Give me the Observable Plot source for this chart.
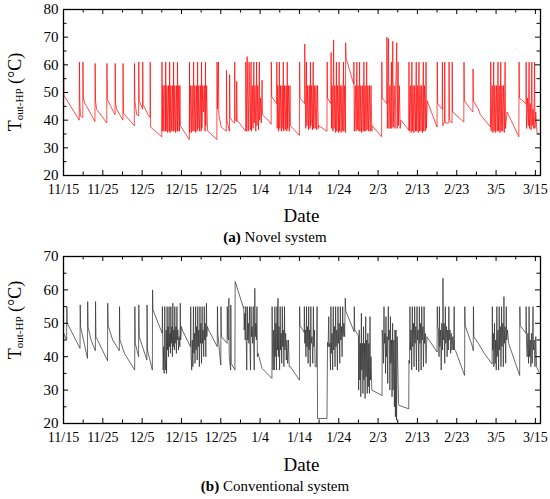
<!DOCTYPE html>
<html><head><meta charset="utf-8">
<script src="https://cdn.jsdelivr.net/npm/d3@7"></script>
<script src="https://cdn.jsdelivr.net/npm/@observablehq/plot@0.6"></script>
<style>
body{margin:0;background:#fff;font-family:"Liberation Serif","Times New Roman",serif;}
#wrap{position:relative;width:550px;height:499px;overflow:hidden;background:#fff;}
.panel{position:absolute;left:0;}
.xlab{position:absolute;left:63px;width:477px;text-align:center;font-size:19px;line-height:1;color:#000;}
.cap{position:absolute;left:0;width:550px;text-align:center;font-size:15px;line-height:1;color:#000;}
.ylab{position:absolute;font-size:18px;white-space:nowrap;line-height:1;transform:translate(-50%,-50%) rotate(-90deg);color:#000;}
.ylab sub{font-size:11px;vertical-align:-0.2em;line-height:0;}
</style></head>
<body>
<div id="wrap">
  <div id="p1" class="panel" style="top:0px"></div>
  <div class="xlab" style="top:206px">Date</div>
  <div class="cap" style="top:230px"><b>(a)</b> Novel system</div>
  <div id="p2" class="panel" style="top:247px"></div>
  <div class="xlab" style="top:455px">Date</div>
  <div class="cap" style="top:479px"><b>(b)</b> Conventional system</div>
  <div class="ylab" style="left:15px;top:92px">T<sub>out-HP</sub> (°C)</div>
  <div class="ylab" style="left:15px;top:320px">T<sub>out-HP</sub> (°C)</div>
</div>
<script>
// x positions: days since 11/15
const xMajor = [0,10,20,30,40,50,60,70,80,90,100,110,120];
const xMinor = [5,15,25,35,45,55,65,75,85,95,105,115];
const dateLabels = ["11/15","11/25","12/5","12/15","12/25","1/4","1/14","1/24","2/3","2/13","2/23","3/5","3/15"];
const yMajorA = [20,30,40,50,60,70,80];
const yMinorA = [25,35,45,55,65,75];
const yMajorB = [20,30,40,50,60,70];
const yMinorB = [25,35,45,55,65];

// (a) Novel system: [day, T_out-HP °C]
const novelSeries = [
[0,30],[0.05,61],[0.1,49],[4.0,40],[4.05,61],[4.15,47],[4.3,41.5],[4.9,41],[4.95,61],[5.05,48],[5.3,46.5],[8.0,39.5],[8.05,60.5],[8.15,47],[8.4,44],[11.0,39],[11.05,60.5],[11.15,47.5],[12.0,45],[13.1,42],[13.15,60.5],[13.25,46],[13.5,44],[15.1,40],[15.15,60.5],[15.25,42.5],[18.0,38],[18.05,60.5],[18.15,47],[18.6,42],[19.1,41.5],[19.15,61],[19.25,47],[20.1,44],[20.15,61],[20.25,45.5],[21.5,42],[22.0,41],[22.05,61],[22.15,37.5],[25.0,34],
[25.05,61],[25.1,36],[25.3,52.5],[25.5,36],[25.6,52.5],[25.8,52.5],[25.9,36],[26.0,61],[26.1,36],[26.3,52.5],[26.5,35.5],[26.7,52.5],[26.9,36],[27.0,61],[27.1,35.5],[27.3,52.5],[27.5,36],[27.7,52.5],[27.9,36],[28.0,61],[28.1,36],[28.3,52.5],[28.5,35.5],[28.7,52.5],[28.9,36],[29.0,61],[29.1,36],[29.3,52.5],[29.5,36],[29.6,52.5],[29.7,38],[32.0,33],
[32.05,61],[32.1,35.5],[32.3,52.5],[32.5,35.5],[32.7,52.5],[32.9,36],[33.1,61],[33.2,36],[33.4,52.5],[33.6,35.5],[33.8,52.5],[34.0,36],[34.1,61],[34.2,37],[34.4,52.5],[34.6,36],[34.8,52.5],[35.0,36],[35.1,61],[35.2,37],[35.4,52.5],[35.6,43],[35.8,52.5],[36.0,36],[36.1,61],[36.2,38],[36.4,52.5],[36.6,36.5],[36.7,36],[39.0,33],
[39.05,61],[39.15,44],[39.4,61],[39.5,42],[40.1,37.5],[41.4,36],[41.45,58],[41.55,40],[42.2,36],[42.25,56.5],[42.35,41],[43.0,39.5],[43.5,39],[43.55,61],[43.65,40],[44.0,39.5],[44.05,54],[44.15,40],[46.3,36],
[46.35,61],[46.45,52.5],[46.6,36],[46.7,63],[46.8,52.5],[47.0,36],[47.2,61],[47.3,52.5],[47.5,36.5],[47.7,61],[47.8,36],[48.0,52.5],[48.2,37],[48.4,61],[48.5,39],[48.7,52.5],[48.9,36],[49.1,61],[49.2,38],[49.4,52.5],[49.6,36.5],[49.8,61],[49.9,40],[50.1,48],[50.3,39],[50.5,54.5],[50.6,42],[52.0,40],[52.8,38.5],[52.85,61],[52.95,48.5],[54.2,46],[54.25,61],[54.35,37],
[54.5,52.5],[54.7,36],[54.9,61],[55.0,37],[55.2,52.5],[55.4,36],[55.6,52.5],[55.8,37],[55.9,61],[56.0,36],[56.2,52.5],[56.4,36.5],[56.6,52.5],[56.8,36],[56.9,61],[57.0,37],[57.2,52.5],[57.4,36],[57.6,52.5],[57.7,38],[60.0,34.5],
[60.05,61],[60.15,48],[61.3,46],[61.35,67.5],[61.45,52.5],[61.6,37],[61.8,61],[61.9,38],[62.1,52.5],[62.3,36.5],[62.5,52.5],[62.7,37],[62.8,61],[62.9,38],[63.1,52.5],[63.3,36.5],[63.5,61],[63.6,37],[63.8,52.5],[64.0,37],[64.2,52.5],[64.4,36.5],[64.6,52.5],[64.8,37],[64.9,38],[67.0,36],
[67.05,61],[67.15,48],[68.0,46],[68.05,64.5],[68.15,37],[68.3,52.5],[68.5,36],[68.7,69],[68.8,37],[69.0,52.5],[69.2,35.5],[69.4,61],[69.5,36],[69.7,52.5],[69.9,35.5],[70.1,61],[70.2,36],[70.4,52.5],[70.6,35.5],[70.8,52.5],[71.0,36],[71.2,61],[71.3,36],[71.5,52.5],[71.7,35.5],[71.75,68],[71.85,62.5],[73.8,53],
[73.85,61],[73.95,36],[74.2,52.5],[74.4,36],[74.6,61],[74.7,36.5],[74.9,52.5],[75.1,36],[75.3,61],[75.4,36],[75.6,52.5],[75.8,35.5],[76.0,52.5],[76.2,36],[76.4,61],[76.5,36],[76.7,52.5],[76.9,36],[77.1,61],[77.2,36.5],[77.4,52.5],[77.6,36],[77.8,52.5],[78.0,36],[78.2,52.5],[78.4,36],[78.5,38],[80.9,34],
[80.95,61],[81.05,48],[82.2,46],[82.25,70],[82.35,37],[82.5,52.5],[82.65,69.5],[82.75,37],[83.0,52.5],[83.2,37],[83.4,61],[83.5,37],[83.75,68.5],[83.85,37.5],[84.1,52.5],[84.3,37],[84.5,52.5],[84.75,68],[84.85,37],[85.1,61],[85.2,38],[85.4,52.5],[85.6,37],[85.8,40],[87.8,36.5],
[87.85,61],[87.95,36],[88.2,52.5],[88.4,35.5],[88.6,61],[88.7,36],[88.9,52.5],[89.1,35.5],[89.3,52.5],[89.5,36],[89.7,61],[89.8,36],[90.0,52.5],[90.2,35.5],[90.4,61],[90.5,36],[90.7,52.5],[90.9,36],[91.1,52.5],[91.3,35.5],[91.5,61],[91.6,36],[91.8,52.5],[92.0,36],[92.2,61],[92.3,37],[92.5,47],[95.0,37.5],
[95.05,61],[95.15,46],[96.3,44],[96.35,61],[96.45,38],[96.9,39.5],[96.95,61],[97.05,39],[98.0,39],[98.05,61],[98.15,40],[98.8,39],[98.85,61],[98.95,43],[101.8,39.3],[101.85,61],[101.95,47],[103.5,44],[104.1,43],[104.15,58.5],[104.25,47],[105.5,44],[106.0,42],[108.6,37.5],
[108.65,61],[108.75,36],[109.0,52.5],[109.2,35.5],[109.4,61],[109.5,36],[109.7,52.5],[109.9,35.5],[110.1,52.5],[110.3,36],[110.5,61],[110.6,36],[110.8,52.5],[111.0,35.5],[111.2,61],[111.3,36],[111.5,52.5],[111.7,36],[111.9,52.5],[112.1,35.5],[112.3,61],[112.4,37],[112.8,43],[115.8,34],
[115.85,61],[115.95,48],[117.6,46],[117.65,61],[117.75,37],[118.0,48],[118.2,38],[118.4,61],[118.5,37],[118.7,46],[118.9,36.5],[119.1,61],[119.2,38],[119.4,44],[119.6,37],[119.8,61],[119.9,37],[120.1,43],[120.4,35.5],[120.9,35]
];

// (b) Conventional system: [day, T_out-HP °C]
const conventionalSeries = [
[0,42],[0.05,47],[0.8,45],[0.85,55],[0.95,50],[4.2,42.5],[4.25,55.5],[4.35,49],[6.1,39.5],[6.15,56.5],[6.25,49],[7.0,45],[8.1,41.8],[8.15,56.5],[8.25,46],[11.2,38.8],[11.25,56],[11.35,49.3],[12.5,45],[14.2,41.8],[14.25,55],[14.35,45],[15.5,41],[18.1,36],[18.15,55],[18.25,44],[19.1,40],[19.15,55.5],[19.25,46],[21.2,39],[21.25,55.5],[21.35,42],[22.6,36],[22.65,60],[22.75,54],[25.1,47],
[25.15,55],[25.25,44],[25.35,36],[25.5,43],[25.6,35],[25.75,55],[25.85,40],[26.0,36],[26.1,48],[26.2,35],[26.35,55],[26.45,42],[26.6,49],[26.7,40],[26.85,55],[26.95,43],[27.1,47],[27.2,41],[27.3,55],[27.4,44],[27.55,49],[27.7,40],[27.8,56],[27.9,43],[28.05,48],[28.2,42],[28.3,55],[28.4,44],[28.6,49],[28.7,41],[28.85,55],[28.95,45],[29.1,48],[29.25,42],[29.4,46],[29.6,43],[29.7,56],[29.8,45],[30.0,49],[30.2,48],[32.3,43],
[32.35,55],[32.45,40],[32.6,36],[32.75,45],[32.9,37],[33.05,55],[33.15,41],[33.3,47],[33.45,38],[33.6,55],[33.7,42],[33.85,49],[34.0,39],[34.15,55],[34.25,43],[34.4,48],[34.55,37],[34.7,55],[34.8,44],[34.95,50],[35.1,38],[35.25,55],[35.35,44],[35.5,48],[35.65,40],[35.8,55],[35.9,45],[36.05,50],[36.2,40],[36.35,56],[36.45,46],[36.6,49],[36.9,48],[39.1,43],
[39.15,55],[39.25,47],[40.0,37.5],[40.05,55],[40.15,46],[41.6,44],[41.65,55],[41.75,46],[42.0,45],[42.05,57.5],[42.15,40],[42.5,36],[42.55,55.5],[42.65,38],[43.6,36],[43.65,62.5],[45.8,54.5],
[45.85,55],[45.95,48],[46.1,53],[46.2,45],[46.35,55],[46.45,46],[46.6,36],[46.75,55],[46.85,45],[47.0,50],[47.15,44],[47.3,55],[47.4,45],[47.55,36],[47.7,55],[47.8,46],[47.95,49],[48.1,44],[48.25,55],[48.35,45],[48.5,36],[48.65,60.5],[48.75,46],[48.9,50],[49.05,45],[49.2,55],[49.3,40],[49.5,41],[49.7,40],[50.5,36.5],[53.0,33.5],
[53.05,55],[53.15,42],[53.3,36],[53.45,48],[53.6,36],[53.75,55],[53.85,40],[54.0,50],[54.15,36],[54.3,55],[54.4,42],[54.55,57.5],[54.65,40],[54.8,49],[54.95,36],[55.1,55],[55.2,42],[55.35,47],[55.5,38],[55.65,55],[55.75,43],[55.9,48],[56.05,37],[56.2,55],[56.3,42],[56.5,47],[56.65,39],[56.8,45],[57.0,38],[57.2,45],[57.4,37],[57.7,37],[60.0,33],
[60.05,55],[60.15,49.3],[61.2,47.3],[61.25,55],[61.35,44],[61.5,48],[61.65,40],[61.8,55],[61.9,43],[62.05,49],[62.2,38],[62.35,55],[62.45,42],[62.6,48],[62.75,37],[62.9,55],[63.0,44],[63.2,46],[63.4,38],[63.55,55],[63.65,43],[63.8,48],[64.0,37],[64.3,37],[64.5,55],[64.6,21.5],[67.0,21.5],
[67.15,44.3],[67.3,43],[67.45,52],[67.55,43],[67.75,44],[67.9,36],[68.0,55],[68.1,41],[68.3,47],[68.45,36],[68.6,55],[68.7,42],[68.9,49],[69.05,37],[69.2,55],[69.3,43],[69.5,48],[69.65,36],[69.8,55],[69.9,44],[70.1,50],[70.25,38],[70.4,55],[70.5,45],[70.7,49],[70.85,40],[71.0,55],[71.1,46],[71.3,50],[71.5,46],[71.65,57.5],[71.75,53.8],[73.9,47.5],[73.95,55],[74.05,48],[75.0,46.3],
[75.05,30],[75.2,48],[75.35,33],[75.5,44],[75.6,28],[75.75,53],[75.85,36],[76.0,44],[76.15,29],[76.3,49],[76.4,33],[76.55,44],[76.7,27.5],[76.85,52],[76.95,34],[77.1,45],[77.25,29],[77.4,47],[77.5,31],[77.65,44],[77.8,29],[77.95,52],[78.05,33],[78.2,40],[78.4,30],[81.0,28.4],
[81.05,48],[81.2,45],[81.35,38],[81.5,55],[81.6,44],[81.75,47],[81.9,35],[82.0,52],[82.1,40],[82.3,46],[82.45,32],[82.6,55],[82.7,45],[82.85,48],[83.0,30],[83.15,52],[83.25,38],[83.4,45],[83.55,28],[83.7,50],[83.8,30],[84.0,45],[84.15,25],[84.3,48],[84.4,22],[84.55,48],[84.7,21],[84.85,46],[85.0,38],[85.2,26],[85.35,25.4],[87.8,24.4],
[87.85,38.9],[88.0,38],[88.1,55],[88.2,42],[88.4,48],[88.55,36],[88.7,55],[88.8,43],[89.0,50],[89.15,37],[89.3,55],[89.4,44],[89.6,49],[89.75,36],[89.9,55],[90.0,45],[90.2,48],[90.35,35.5],[90.5,55],[90.6,44],[90.8,50],[90.95,36],[91.1,55],[91.2,45],[91.4,49],[91.55,37],[91.7,55],[91.8,44],[92.0,47],[92.2,38],[92.4,46],[92.5,45.8],[95.0,41.4],
[95.05,55],[95.15,49],[95.35,48],[95.5,40],[95.6,55],[95.7,43],[95.9,48],[96.05,36],[96.2,50],[96.4,42],[96.5,63.5],[96.6,45],[96.8,50],[96.95,38],[97.1,55],[97.2,44],[97.4,49],[97.55,40],[97.7,48],[97.85,42],[98.0,55],[98.1,45],[98.3,48],[98.45,41],[98.6,47],[98.8,42],[99.0,46],[99.2,42],[99.35,55],[99.45,42],[99.7,41.8],[102.0,34.4],
[102.05,55],[102.15,49.3],[104.0,43],[104.2,41.8],[104.25,55],[104.35,46],[105.5,44],[107.0,41],[109.0,37.8],
[109.05,55],[109.15,42],[109.3,47],[109.45,37],[109.6,50],[109.75,38],[109.9,45],[110.05,36],[110.2,55],[110.3,40],[110.5,48],[110.65,36],[110.8,55],[110.9,42],[111.1,49],[111.25,37],[111.4,55],[111.5,43],[111.7,50],[111.85,37],[112.0,58],[112.1,44],[112.3,49],[112.45,38],[112.6,55],[112.7,45],[112.9,48],[113.2,44],[116.0,34.4],
[116.05,55],[116.15,49.3],[117.6,47],[117.65,55],[117.75,44],[117.9,40],[118.1,47],[118.25,38],[118.4,55],[118.5,40],[118.7,45],[118.85,37],[119.0,47],[119.2,38],[119.4,55],[119.5,42],[119.7,45],[119.9,37],[120.1,46],[120.3,37],[120.9,35.4]
];

const FONT = '"Liberation Serif","Times New Roman",serif';

function panel(series, color, yDomain, yMajor, yMinor, innerH) {
  const W = 550, mt = 9, mb = 25, ml = 63, mr = 10;
  const innerW = W - ml - mr;
  const H = mt + innerH + mb;
  const lbl = d => dateLabels[xMajor.indexOf(d)];
  return Plot.plot({
    width: W, height: H, marginTop: mt, marginBottom: mb, marginLeft: ml, marginRight: mr,
    style: {fontFamily: FONT, background: "white", color: "#000", overflow: "visible"},
    x: {domain: [0, 121.3]},
    y: {domain: yDomain},
    marks: [
      Plot.line(series, {x: d => d[0], y: d => d[1], stroke: color, strokeWidth: 0.7}),
      // inward ticks bottom/top
      Plot.tickX(xMajor, {x: d => d, insetTop: innerH - 5, stroke: "#000", strokeWidth: 1}),
      Plot.tickX(xMinor, {x: d => d, insetTop: innerH - 3.5, stroke: "#000", strokeWidth: 1}),
      Plot.tickX(xMajor, {x: d => d, insetBottom: innerH - 5, stroke: "#000", strokeWidth: 1}),
      Plot.tickX(xMinor, {x: d => d, insetBottom: innerH - 3.5, stroke: "#000", strokeWidth: 1}),
      // inward ticks left/right
      Plot.tickY(yMajor, {y: d => d, insetRight: innerW - 5, stroke: "#000", strokeWidth: 1}),
      Plot.tickY(yMinor, {y: d => d, insetRight: innerW - 3.5, stroke: "#000", strokeWidth: 1}),
      Plot.tickY(yMajor, {y: d => d, insetLeft: innerW - 5, stroke: "#000", strokeWidth: 1}),
      Plot.tickY(yMinor, {y: d => d, insetLeft: innerW - 3.5, stroke: "#000", strokeWidth: 1}),
      Plot.frame({stroke: "#000", strokeWidth: 1.3}),
      Plot.axisX(xMajor, {tickSize: 0, tickPadding: 9, tickFormat: lbl, fontSize: 14, label: null, fill: "#000"}),
      Plot.axisY(yMajor, {tickSize: 0, tickPadding: 5, fontSize: 15, label: null, fill: "#000"})
    ]
  });
}

document.getElementById("p1").appendChild(panel(novelSeries, "#ff0000", [20, 80], yMajorA, yMinorA, 166));
document.getElementById("p2").appendChild(panel(conventionalSeries, "#2a2a2a", [20, 70], yMajorB, yMinorB, 167));
</script>
</body></html>
